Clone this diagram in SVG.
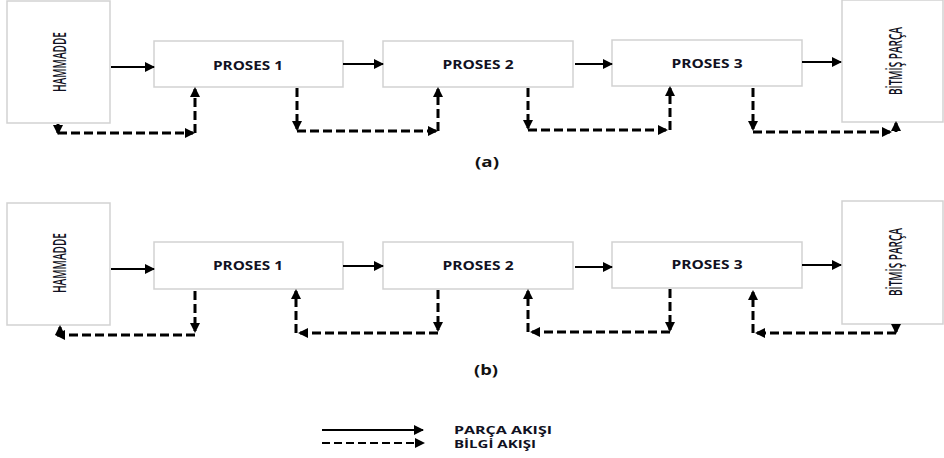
<svg xmlns="http://www.w3.org/2000/svg" width="944" height="458" viewBox="0 0 944 458">
  <style>
    .box { fill: #ffffff; stroke: #d2d2d2; stroke-width: 1.5; }
    .lbl { font-family: "Open Sans", "Liberation Sans", sans-serif; font-weight: bold; font-size: 11.5px; fill: #111122; text-anchor: middle; }
    .vlbl { font-family: "Open Sans", "Liberation Sans", sans-serif; font-weight: 600; font-size: 14px; fill: #111122; text-anchor: middle; }
    .cap { font-family: "Open Sans", "Liberation Sans", sans-serif; font-weight: bold; font-size: 14px; fill: #111; text-anchor: middle; }
    .leg { font-family: "Open Sans", "Liberation Sans", sans-serif; font-weight: bold; font-size: 11px; fill: #111122; }
    .part { fill: none; stroke: #000; stroke-width: 2; marker-end: url(#head); }
    .info { fill: none; stroke: #000; stroke-width: 3; stroke-dasharray: 9 4; marker-end: url(#dhead); }
  </style>
  <defs>
    <marker id="head" viewBox="0 0 10 10" refX="9" refY="5" markerWidth="11" markerHeight="10" markerUnits="userSpaceOnUse" orient="auto">
      <path d="M0,0 L10,5 L0,10 z" fill="#000"/>
    </marker>
    <marker id="dhead" viewBox="0 0 10 10" refX="8" refY="5" markerWidth="10" markerHeight="11" markerUnits="userSpaceOnUse" orient="auto">
      <path d="M0,0 L10,5 L0,10 z" fill="#000"/>
    </marker>
  </defs>

  <rect width="944" height="458" fill="#ffffff"/>

  <!-- (a) -->
  <g id="a-hammadde">
    <rect class="box" x="7" y="1" width="103" height="122"/>
    <text class="vlbl" transform="translate(66,62) scale(1.3,1) rotate(-90)" textLength="60" lengthAdjust="spacingAndGlyphs">HAMMADDE</text>
  </g>
  <g id="a-proses1">
    <rect class="box" x="154" y="41" width="189" height="46"/>
    <text class="lbl" x="248" y="70" textLength="70" lengthAdjust="spacingAndGlyphs">PROSES 1</text>
  </g>
  <g id="a-proses2">
    <rect class="box" x="383" y="41" width="190" height="46"/>
    <text class="lbl" x="478" y="69" textLength="71" lengthAdjust="spacingAndGlyphs">PROSES 2</text>
  </g>
  <g id="a-proses3">
    <rect class="box" x="612" y="40" width="190" height="46"/>
    <text class="lbl" x="707" y="68" textLength="71" lengthAdjust="spacingAndGlyphs">PROSES 3</text>
  </g>
  <g id="a-bitmis">
    <rect class="box" x="842" y="0" width="101" height="122"/>
    <text class="vlbl" transform="translate(902,61) scale(1.3,1) rotate(-90)" textLength="68" lengthAdjust="spacingAndGlyphs">BİTMİŞ PARÇA</text>
  </g>
  <text class="cap" x="487" y="167" textLength="24" lengthAdjust="spacingAndGlyphs">(a)</text>

  <!-- (b) -->
  <g id="b-hammadde">
    <rect class="box" x="7" y="203" width="103" height="122"/>
    <text class="vlbl" transform="translate(66,263) scale(1.3,1) rotate(-90)" textLength="60" lengthAdjust="spacingAndGlyphs">HAMMADDE</text>
  </g>
  <g id="b-proses1">
    <rect class="box" x="154" y="242" width="189" height="47"/>
    <text class="lbl" x="248" y="270" textLength="70" lengthAdjust="spacingAndGlyphs">PROSES 1</text>
  </g>
  <g id="b-proses2">
    <rect class="box" x="383" y="242" width="190" height="47"/>
    <text class="lbl" x="478" y="270" textLength="71" lengthAdjust="spacingAndGlyphs">PROSES 2</text>
  </g>
  <g id="b-proses3">
    <rect class="box" x="612" y="242" width="190" height="46"/>
    <text class="lbl" x="707" y="269" textLength="71" lengthAdjust="spacingAndGlyphs">PROSES 3</text>
  </g>
  <g id="b-bitmis">
    <rect class="box" x="842" y="201" width="101" height="123"/>
    <text class="vlbl" transform="translate(902,262) scale(1.3,1) rotate(-90)" textLength="68" lengthAdjust="spacingAndGlyphs">BİTMİŞ PARÇA</text>
  </g>
  <text class="cap" x="486" y="375" textLength="24" lengthAdjust="spacingAndGlyphs">(b)</text>

  <!-- connectors -->
  <g id="connectors">
    <!-- part flow (a) -->
    <path class="part" d="M111,67 H154"/>
    <path class="part" d="M343,64 H383"/>
    <path class="part" d="M575,64 H612"/>
    <path class="part" d="M802,62 H841"/>
    <!-- information flow (a) -->
    <path class="info" d="M58,124 V133"/>
    <path class="info" d="M58,133 H193"/>
    <path class="info" d="M195,133 V89"/>
    <path class="info" d="M297,88 V129"/>
    <path class="info" d="M297,131 H436"/>
    <path class="info" d="M438,131 V89"/>
    <path class="info" d="M528,88 V128"/>
    <path class="info" d="M528,130 H666"/>
    <path class="info" d="M670,130 V88"/>
    <path class="info" d="M753,88 V129"/>
    <path class="info" d="M753,132 H890"/>
    <path class="info" d="M896,132 V123"/>

    <!-- part flow (b) -->
    <path class="part" d="M111,269 H154"/>
    <path class="part" d="M343,266 H383"/>
    <path class="part" d="M575,267 H612"/>
    <path class="part" d="M802,265 H841"/>
    <!-- information flow (b) -->
    <path class="info" d="M195,291 V331"/>
    <path class="info" d="M195,335 H57"/>
    <path class="info" d="M60,335 V327"/>
    <path class="info" d="M438,290 V330"/>
    <path class="info" d="M438,333 H300"/>
    <path class="info" d="M296,333 V291"/>
    <path class="info" d="M670,289 V330"/>
    <path class="info" d="M670,332 H532"/>
    <path class="info" d="M528,332 V291"/>
    <path class="info" d="M896,324 V332"/>
    <path class="info" d="M896,333 H757"/>
    <path class="info" d="M753,333 V292"/>

    <!-- legend -->
    <path class="part" d="M322,430 H423"/>
    <path class="info" style="stroke-width:2;stroke-dasharray:8 4" d="M322,443 H423"/>
  </g>
  <text class="leg" x="454" y="434" textLength="98" lengthAdjust="spacingAndGlyphs">PARÇA AKIŞI</text>
  <text class="leg" x="454" y="448" textLength="82" lengthAdjust="spacingAndGlyphs">BİLGİ AKIŞI</text>
</svg>
